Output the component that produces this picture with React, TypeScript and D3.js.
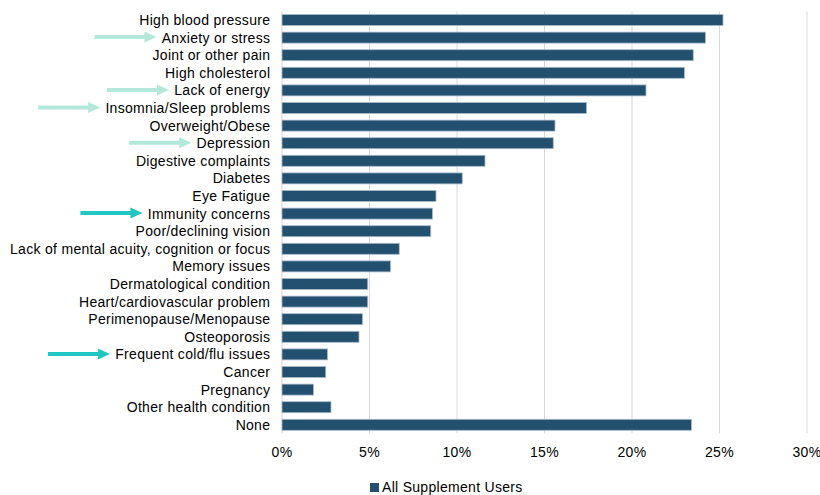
import React from "react";
import * as d3 from "d3";

const categories = [
  "High blood pressure",
  "Anxiety or stress",
  "Joint or other pain",
  "High cholesterol",
  "Lack of energy",
  "Insomnia/Sleep problems",
  "Overweight/Obese",
  "Depression",
  "Digestive complaints",
  "Diabetes",
  "Eye Fatigue",
  "Immunity concerns",
  "Poor/declining vision",
  "Lack of mental acuity, cognition or focus",
  "Memory issues",
  "Dermatological condition",
  "Heart/cardiovascular problem",
  "Perimenopause/Menopause",
  "Osteoporosis",
  "Frequent cold/flu issues",
  "Cancer",
  "Pregnancy",
  "Other health condition",
  "None",
];

const values = [
  25.2, 24.2, 23.5, 23.0, 20.8, 17.4, 15.6, 15.5, 11.6, 10.3, 8.8, 8.6, 8.5,
  6.7, 6.2, 4.9, 4.9, 4.6, 4.4, 2.6, 2.5, 1.8, 2.8, 23.4,
];

const tickValues = [0, 5, 10, 15, 20, 25, 30];
const tickLabels = ["0%", "5%", "10%", "15%", "20%", "25%", "30%"];

const seriesName = "All Supplement Users";

// annotation arrows: category and colour kind
const arrowCategories = [
  "Anxiety or stress",
  "Lack of energy",
  "Insomnia/Sleep problems",
  "Depression",
  "Immunity concerns",
  "Frequent cold/flu issues",
];
const arrowKinds = ["light", "light", "light", "light", "dark", "dark"];

const W = 820;
const H = 495;
const FONT = "'Liberation Sans', Arial, Helvetica, sans-serif";
const BAR = "#24506f";
const LS = 0.3;

function measure(text: string, size: number): number {
  if (typeof document === "undefined") return text.length * size * 0.5;
  const c = document.createElement("canvas");
  const ctx = c.getContext("2d");
  if (!ctx) return text.length * size * 0.5;
  ctx.font = `${size}px ${FONT}`;
  return ctx.measureText(text).width + LS * text.length;
}

export default function App() {
  const x = d3.scaleLinear().domain([0, 30]).range([282, 807]);
  const y = d3
    .scaleBand<string>()
    .domain(categories)
    .range([11.2, 433.6])
    .paddingInner(0.375)
    .paddingOuter(0.1875);

  const labelX = 270;
  const fs = 14;

  return (
    <svg
      width={W}
      height={H}
      style={{ position: "absolute", left: 0, top: 0, background: "#fff" }}
      fontFamily={FONT}
    >
      {/* gridlines */}
      {tickValues.map((t) => (
        <line
          key={"g" + t}
          x1={x(t)}
          x2={x(t)}
          y1={11.5}
          y2={433.5}
          stroke="#d9d9d9"
          strokeWidth={1}
        />
      ))}
      {/* bars */}
      {categories.map((c, i) => (
        <rect
          key={c}
          x={x(0)}
          y={y(c)!}
          width={x(values[i]) - x(0)}
          height={y.bandwidth()}
          fill={BAR}
          stroke="#a9bccb"
          strokeWidth={0.8}
        />
      ))}
      {/* category labels */}
      {categories.map((c) => (
        <text
          key={"l" + c}
          x={labelX + LS}
          y={y(c)! + y.bandwidth() / 2 + 5}
          textAnchor="end"
          fontSize={fs}
          letterSpacing={LS}
          fill="#000"
        >
          {c}
        </text>
      ))}
      {/* arrows */}
      {arrowCategories.map((c, i) => {
        const cy = y(c)! + y.bandwidth() / 2 - 0.5;
        const tip = labelX - measure(c, fs) - 5;
        const tail = tip - 62;
        const headLen = 12;
        const col = arrowKinds[i] === "light" ? "#b3e8da" : "#1fc6c2";
        const path = d3.path();
        path.moveTo(tail, cy - 2);
        path.lineTo(tip - headLen, cy - 2);
        path.lineTo(tip - headLen, cy - 5.5);
        path.lineTo(tip, cy);
        path.lineTo(tip - headLen, cy + 5.5);
        path.lineTo(tip - headLen, cy + 2);
        path.lineTo(tail, cy + 2);
        path.closePath();
        return <path key={"a" + c} d={path.toString()} fill={col} />;
      })}
      {/* x tick labels */}
      {tickValues.map((t, i) => (
        <text
          key={"t" + t}
          x={x(t)}
          y={457}
          textAnchor="middle"
          fontSize={fs}
          letterSpacing={LS}
          fill="#000"
        >
          {tickLabels[i]}
        </text>
      ))}
      {/* legend */}
      <rect x={370} y={483} width={9} height={9} fill={BAR} />
      <text x={382} y={491.5} fontSize={fs} letterSpacing={LS} fill="#000">
        {seriesName}
      </text>
    </svg>
  );
}
